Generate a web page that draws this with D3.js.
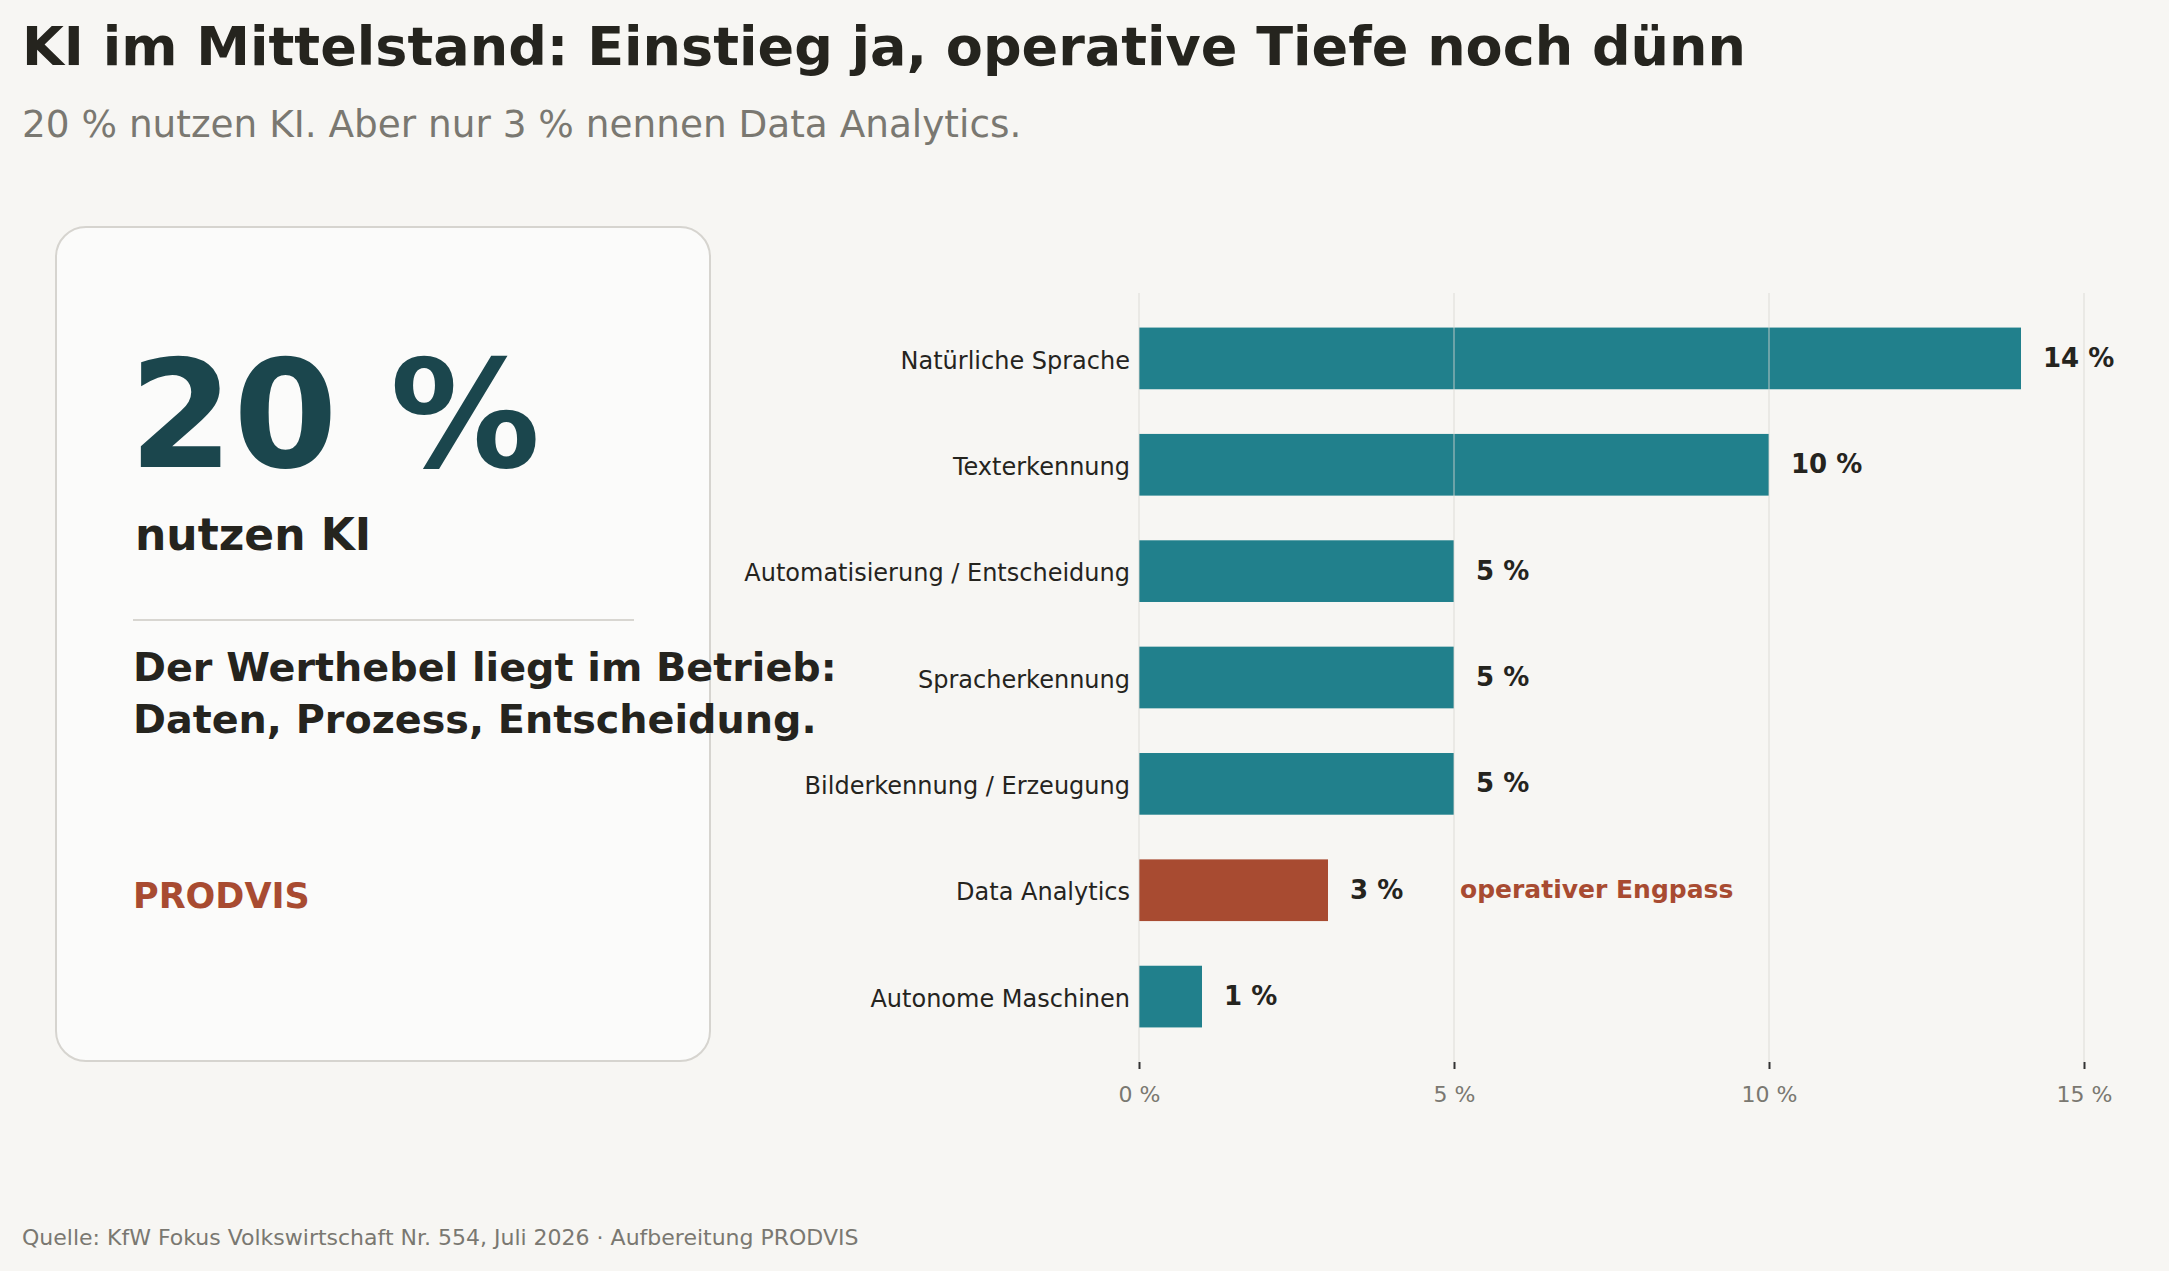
<!DOCTYPE html>
<html>
<head>
<meta charset="utf-8">
<script src="https://cdn.jsdelivr.net/npm/d3@7"></script>
<style>
  body { margin: 0; background: #f7f6f3; }
  svg { display: block; font-family: "DejaVu Sans", sans-serif; }
</style>
</head>
<body>
<div id="chart"></div>
<script>
// data
var categories = ["Natürliche Sprache", "Texterkennung", "Automatisierung / Entscheidung",
                  "Spracherkennung", "Bilderkennung / Erzeugung", "Data Analytics", "Autonome Maschinen"];
var shares = [14, 10, 5, 5, 5, 3, 1];
var highlight = "Data Analytics";
var tick_values = [0, 5, 10, 15];

// layout
var width = 2169;
var height = 1271;
var plot_left = 1139, plot_right = 2084;
var plot_top = 293, plot_bottom = 1062;

var c_teal = "#21808c";
var c_red = "#a84b31";
var c_ink = "#25241e";
var c_grey = "#7a7871";

var svg = d3.select("#chart")
            .append("svg")
            .attr("width", width)
            .attr("height", height);

svg.append("rect").attr("width", width).attr("height", height).attr("fill", "#f7f6f3");

// title + subtitle
svg.append("text")
    .attr("x", 22).attr("y", 65)
    .attr("font-size", 54).attr("font-weight", "bold").attr("fill", c_ink)
    .text("KI im Mittelstand: Einstieg ja, operative Tiefe noch dünn");
svg.append("text")
    .attr("x", 22).attr("y", 137)
    .attr("font-size", 37.4).attr("fill", c_grey)
    .text("20 % nutzen KI. Aber nur 3 % nennen Data Analytics.");

// left card
svg.append("rect")
    .attr("x", 56).attr("y", 227).attr("width", 654).attr("height", 834)
    .attr("rx", 30)
    .attr("fill", "#fbfbfa").attr("stroke", "#d6d4cf").attr("stroke-width", 2);
svg.append("text")
    .attr("x", 129).attr("y", 467)
    .attr("font-size", 150).attr("font-weight", "bold").attr("fill", "#1b464d")
    .text("20 %");
svg.append("text")
    .attr("x", 135).attr("y", 550)
    .attr("font-size", 44).attr("font-weight", "bold").attr("fill", c_ink)
    .text("nutzen KI");
svg.append("line")
    .attr("x1", 133).attr("x2", 634).attr("y1", 620).attr("y2", 620)
    .attr("stroke", "#d8d6d1").attr("stroke-width", 2);
svg.append("text")
    .attr("x", 133).attr("y", 681)
    .attr("font-size", 39.7).attr("font-weight", "bold").attr("fill", c_ink)
    .text("Der Werthebel liegt im Betrieb:");
svg.append("text")
    .attr("x", 133).attr("y", 733)
    .attr("font-size", 39.7).attr("font-weight", "bold").attr("fill", c_ink)
    .text("Daten, Prozess, Entscheidung.");
svg.append("text")
    .attr("x", 133).attr("y", 908)
    .attr("font-size", 35).attr("font-weight", "bold").attr("fill", c_red)
    .text("PRODVIS");

// scales
var scale_x = d3.scaleLinear()
            .domain([0, 15])
            .range([plot_left, plot_right]);
var scale_y = d3.scaleBand()
            .domain(categories)
            .range([plot_top, plot_bottom])
            .paddingInner(0.42)
            .paddingOuter(0.325);

// bars
svg.selectAll("rect.bar")
    .data(shares)
    .enter()
    .append("rect")
    .attr("class", "bar")
    .attr("x", scale_x(0))
    .attr("y", function(d, i){ return scale_y(categories[i]); })
    .attr("width", function(d){ return scale_x(d) - scale_x(0); })
    .attr("height", scale_y.bandwidth())
    .attr("fill", function(d, i){ return categories[i] === highlight ? c_red : c_teal; });

// grid on top of bars, faint
svg.selectAll("line.grid")
    .data(tick_values)
    .enter()
    .append("line")
    .attr("class", "grid")
    .attr("x1", function(d){ return scale_x(d); })
    .attr("x2", function(d){ return scale_x(d); })
    .attr("y1", plot_top).attr("y2", plot_bottom)
    .attr("stroke", "#d9d7d2").attr("stroke-width", 1.5).attr("opacity", 0.55);

// x axis
var x_axis = d3.axisBottom(scale_x)
            .tickValues(tick_values)
            .tickSize(7)
            .tickFormat(function(d){ return d + " %"; });
var gx = svg.append("g")
    .attr("transform", "translate(0," + plot_bottom + ")")
    .call(x_axis);
gx.select(".domain").remove();
gx.selectAll(".tick line").attr("stroke", "#333").attr("stroke-width", 2);
gx.selectAll(".tick text")
    .attr("font-family", "DejaVu Sans").attr("font-size", 22)
    .attr("fill", c_grey).attr("dy", "1.35em");

// y axis labels
var y_axis = d3.axisLeft(scale_y).tickSize(0).tickPadding(9);
var gy = svg.append("g")
    .attr("transform", "translate(" + plot_left + ",0)")
    .call(y_axis);
gy.select(".domain").remove();
gy.selectAll(".tick text")
    .attr("font-family", "DejaVu Sans").attr("font-size", 24)
    .attr("fill", c_ink).attr("dy", "0.42em");

// value labels
svg.selectAll("text.value")
    .data(shares)
    .enter()
    .append("text")
    .attr("class", "value")
    .attr("x", function(d){ return scale_x(d) + 22; })
    .attr("y", function(d, i){ return scale_y(categories[i]) + scale_y.bandwidth() / 2; })
    .attr("dy", "0.33em")
    .attr("font-size", 26).attr("font-weight", "bold").attr("fill", c_ink)
    .text(function(d){ return d + " %"; });

// annotation next to the highlighted bar
var hi = categories.indexOf(highlight);
svg.append("text")
    .attr("x", scale_x(shares[hi]) + 132)
    .attr("y", scale_y(highlight) + scale_y.bandwidth() / 2)
    .attr("dy", "0.3em")
    .attr("font-size", 25).attr("font-weight", "bold").attr("fill", c_red)
    .text("operativer Engpass");

// footer
svg.append("text")
    .attr("x", 22).attr("y", 1245)
    .attr("font-size", 22).attr("fill", c_grey)
    .text("Quelle: KfW Fokus Volkswirtschaft Nr. 554, Juli 2026 · Aufbereitung PRODVIS");
</script>
</body>
</html>
